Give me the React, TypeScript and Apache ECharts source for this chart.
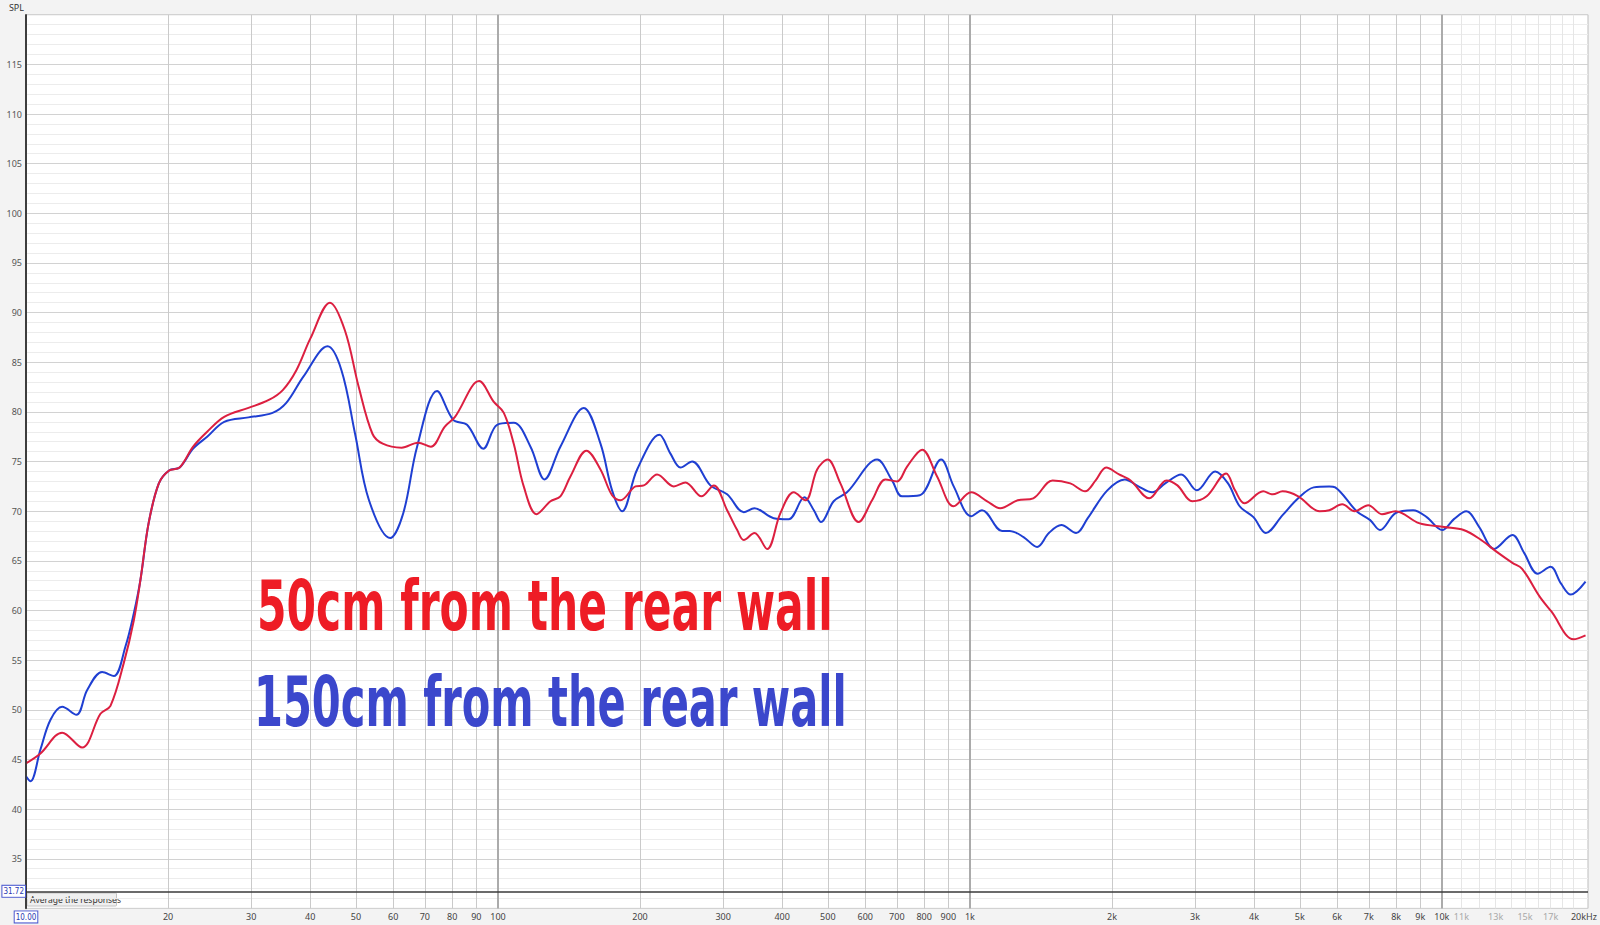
import { useEffect, useRef } from 'react';
import * as echarts from 'echarts';

// 50 cm from the rear wall (red)
const redFreq = [
  10, 10.73, 11.93, 13.15, 14.38, 15.1, 16.11, 16.92, 17.48, 18.19, 19.12, 20.1, 21.16, 22.6, 24.2,
  26.3, 29.6, 32.7, 35.0, 37.4, 40.05, 44.06, 47.4, 50.7, 54.2, 57.0, 62.5, 67.7, 72.1, 77.1, 81.1,
  91.25, 98, 102.9, 108, 113.4, 120.7, 129.2, 135.6, 142.4, 154, 164.9, 174.5, 181.8, 195.6, 203.7,
  217.4, 235.8, 249.6, 269.9, 286.6, 305.9, 321.3, 331.8, 349.5, 371.8, 396.7, 423.4, 448.3, 474.6,
  499.5, 531.6, 581.3, 620.5, 662.2, 701, 736, 792, 852, 924, 1006, 1088, 1159, 1263, 1362, 1497,
  1632, 1754, 1847, 1944, 2070, 2190, 2399, 2609, 2752, 2958, 3174, 3490, 3645, 3815, 4181, 4383,
  4597, 4961, 5507, 5772, 6150, 6532, 6985, 7463, 7976, 8941, 10113, 11122, 12113, 13072, 14107,
  14792, 16114, 17061, 19011, 20157,
];
const redSpl = [
  44.6, 45.6, 47.7, 46.2, 49.6, 50.4, 54.7, 59.0, 63.1, 68.8, 72.8, 74.1, 74.4, 76.5, 78.0,
  79.5, 80.4, 81.2, 82.2, 84.2, 87.4, 91.0, 88.2, 82.5, 77.8, 76.8, 76.4, 76.9, 76.5, 78.5, 79.5,
  83.1, 81.0, 79.9, 76.8, 72.5, 69.7, 71.0, 71.5, 73.5, 76.1, 74.2, 71.6, 71.1, 72.5, 72.6,
  73.7, 72.5, 72.9, 71.5, 72.6, 70.1, 68.1, 67.1, 67.8, 66.2, 69.8, 71.9, 71.1, 74.2,
  75.2, 72.8, 68.9, 71.1, 73.2, 73.0, 74.5, 76.2, 73.5, 70.5, 71.9, 71.0, 70.3, 71.1, 71.3, 73.1,
  72.8, 72.0, 73.1, 74.4, 73.7, 73.1, 71.3, 73.1, 72.6, 71.0, 71.5, 73.8, 72.1, 70.8, 72.0, 71.7,
  72.0, 71.5, 70.0, 70.1, 70.7, 70.0, 70.6, 69.7, 70.0, 68.8, 68.4, 68.1, 67.1, 65.9, 64.8,
  64.2, 61.4, 59.9, 57.1, 57.5,
];

// 150 cm from the rear wall (blue)
const blueFreq = [
  10, 10.22, 10.73, 11.27, 11.93, 12.79, 13.48, 14.5, 15.35, 16.25, 16.92, 17.48, 18.19, 19.12, 20.1,
  21.16, 22.6, 24.2, 26.3, 29.6, 33.3, 35.6, 38.7, 43.55, 46.6, 49.8, 53.3, 59.1, 63, 67.4, 74.3,
  80.4, 86, 93.1, 99.6, 108, 117.2, 125.5, 135.6, 152, 164.9, 174.5, 183.3, 197.2, 219.9, 232,
  243.6, 257.9, 281.9, 305.9, 331.8, 349.5, 384, 413, 446, 467, 483.7, 514.5, 549, 636, 684, 718,
  783, 869, 924, 1006, 1061, 1170, 1215, 1299, 1388, 1470, 1562, 1679, 1777, 1955, 2129, 2275,
  2432, 2593, 2804, 3026, 3309, 3523, 3729, 3988, 4236, 4597, 4961, 5351, 5772, 5943, 6597, 7048,
  7393, 7976, 8690, 9286, 10019, 10607, 11269, 12000, 12900, 14107, 14938, 15958, 16995, 17890,
  18754, 20157,
];
const blueSpl = [
  43.3, 42.8, 46.0, 49.0, 50.3, 49.5, 52.0, 53.8, 53.4, 56.4, 59.7, 63.1, 68.8, 72.8, 74.1,
  74.4, 76.3, 77.5, 79.0, 79.45, 79.9, 80.9, 83.55, 86.6, 84.2, 77.8, 71.1, 67.3, 69.8, 76.5, 82.1,
  79.2, 78.7, 76.3, 78.7, 78.9, 76.5, 73.2, 76.5, 80.4, 76.8, 72.1, 70.0, 74.2, 77.7, 75.8,
  74.4, 75.0, 72.6, 71.7, 69.9, 70.3, 69.3, 69.2, 71.4, 70.1, 68.9, 71.0, 71.9, 75.2, 73.1, 71.5,
  71.6, 75.2, 72.5, 69.5, 70.1, 68.0, 68.0, 67.4, 66.4, 67.8, 68.6, 67.8, 69.3, 72.1, 73.2, 72.5,
  71.9, 72.8, 73.7, 72.1, 74.0, 72.8, 70.5, 69.4, 67.8, 69.6, 71.3, 72.4, 72.5, 72.4, 70.0, 69.1,
  68.1, 69.8, 70.1, 69.4, 68.1, 69.2, 70.0, 68.4, 66.2, 67.6, 65.8, 63.7, 64.4, 62.7,
  61.6, 62.9,
];

// vertical grid lines and frequency labels
const gridFreqs = [
  20, 30, 40, 50, 60, 70, 80, 90,
  200, 300, 400, 500, 600, 700, 800, 900,
  2000, 3000, 4000, 5000, 6000, 7000, 8000, 9000,
  11000, 12000, 13000, 14000, 15000, 16000, 17000, 18000, 19000,
];
const decadeFreqs = [100, 1000, 10000];
const labelFreqs = [
  20, 30, 40, 50, 60, 70, 80, 90, 100, 200, 300, 400, 500, 600, 700, 800, 900,
  1000, 2000, 3000, 4000, 5000, 6000, 7000, 8000, 9000, 10000, 11000, 13000, 15000, 17000, 20000,
];

const cursorSpl = 31.72;
const cursorFreq = 10;
const notes = ['50cm from the rear wall', '150cm from the rear wall'];

const noteFont = '"DejaVu Sans Condensed", "DejaVu Sans", sans-serif';

const fmtFreq = (v: number) => {
  const f = Math.round(v);
  if (f >= 20000) return '20kHz';
  if (f >= 1000) return `${Math.round(f / 100) / 10}k`;
  return String(f);
};

const measure = (text: string, size: number) => {
  const ctx = document.createElement('canvas').getContext('2d');
  if (!ctx) return text.length * size * 0.55;
  ctx.font = `bold ${size}px ${noteFont}`;
  return ctx.measureText(text).width;
};

const App = () => {
  const chartRef = useRef<HTMLDivElement>(null);

  useEffect(() => {
    if (!chartRef.current) return;
    document.body.style.margin = '0';

    const chart = echarts.init(chartRef.current, undefined, { renderer: 'svg' });

    const noteSize = 70;
    const redScale = 576 / measure(notes[0], noteSize);
    const blueScale = 593 / measure(notes[1], noteSize);

    const cursorLabel = {
      color: '#2a38b0',
      fontSize: 8,
      fontFamily: '"DejaVu Sans Condensed", sans-serif',
      backgroundColor: '#ffffff',
      borderColor: '#4a58d0',
      borderWidth: 1,
      padding: [2, 1, 1, 1],
    };

    const option: echarts.EChartsOption = {
      animation: false,
      backgroundColor: '#f3f3f3',
      textStyle: { fontFamily: '"Noto Sans", "DejaVu Sans", sans-serif' },
      grid: {
        left: 26,
        right: 12,
        top: 14.7,
        bottom: 16.6,
        show: true,
        backgroundColor: '#ffffff',
        borderColor: '#bdbdbd',
        borderWidth: 1,
      },
      xAxis: [
        {
          type: 'log',
          logBase: 10,
          min: 10,
          max: 20400,
          position: 'bottom',
          axisLine: { show: false },
          axisTick: { show: false, customValues: gridFreqs },
          axisLabel: {
            customValues: labelFreqs,
            formatter: (v: number) => fmtFreq(v),
            fontSize: 9,
            margin: 4,
            color: ((v: number) => (v > 10500 && v < 19000 ? '#a8a8a8' : '#444444')) as any,
          },
          splitLine: {
            show: true,
            lineStyle: {
              color: gridFreqs.map((f) => (f > 10000 ? '#e6e6e6' : '#cacaca')),
              width: 1,
            },
          },
        },
        {
          type: 'log',
          logBase: 10,
          min: 10,
          max: 20400,
          position: 'bottom',
          axisLine: { show: false },
          axisTick: { show: false, customValues: decadeFreqs },
          axisLabel: { show: false },
          splitLine: { show: true, lineStyle: { color: '#ababab', width: 2 } },
        },
      ],
      yAxis: {
        type: 'value',
        min: 30,
        max: 120,
        interval: 5,
        name: 'SPL',
        nameLocation: 'end',
        nameGap: 3,
        nameTextStyle: { align: 'right', fontSize: 9, color: '#333333', padding: [0, 2, 0, 0] },
        axisLine: { show: true, lineStyle: { color: '#333333', width: 1.5 } },
        axisTick: { show: false },
        axisLabel: { fontSize: 9, color: '#555555', margin: 4, showMinLabel: false, showMaxLabel: false },
        splitLine: { lineStyle: { color: '#d2d2d2' } },
        minorTick: { show: false, splitNumber: 5 },
        minorSplitLine: { show: true, lineStyle: { color: '#ececec' } },
      },
      series: [
        {
          name: '150cm',
          type: 'line',
          data: blueFreq.map((f, i) => [f, blueSpl[i]]),
          showSymbol: false,
          smooth: 0.35,
          lineStyle: { color: '#1f3fd2', width: 2 },
          itemStyle: { color: '#1f3fd2' },
          z: 3,
          markLine: {
            silent: true,
            symbol: ['none', 'none'],
            data: [
              {
                yAxis: cursorSpl,
                lineStyle: { color: '#3a3a3a', width: 1.5, type: 'solid' },
                label: { ...cursorLabel, position: 'start', distance: 1, formatter: cursorSpl.toFixed(2) },
              },
              {
                xAxis: cursorFreq,
                lineStyle: { color: '#333333', width: 1.5, type: 'solid' },
                label: { ...cursorLabel, position: 'start', distance: 3, formatter: cursorFreq.toFixed(2) },
              },
            ] as any,
          },
        },
        {
          name: '50cm',
          type: 'line',
          data: redFreq.map((f, i) => [f, redSpl[i]]),
          showSymbol: false,
          smooth: 0.35,
          lineStyle: { color: '#dc1f40', width: 2 },
          itemStyle: { color: '#dc1f40' },
          z: 4,
        },
      ],
      graphic: [
        {
          type: 'text',
          x: 257,
          y: 605.5,
          scaleX: redScale,
          z: 100,
          style: {
            text: notes[0],
            fill: '#ee1c25',
            fontFamily: noteFont,
            fontWeight: 'bold',
            fontSize: noteSize,
            align: 'left',
            verticalAlign: 'middle',
          },
        },
        {
          type: 'text',
          x: 254,
          y: 701.5,
          scaleX: blueScale,
          z: 100,
          style: {
            text: notes[1],
            fill: '#3b47cc',
            fontFamily: noteFont,
            fontWeight: 'bold',
            fontSize: noteSize,
            align: 'left',
            verticalAlign: 'middle',
          },
        },
        {
          type: 'group',
          z: 100,
          children: [
            {
              type: 'rect',
              shape: { x: 27, y: 893, width: 89.5, height: 13, r: 1 },
              style: { fill: '#efefef', stroke: '#c4c4c4', lineWidth: 1 },
            },
            {
              type: 'text',
              x: 30,
              y: 899.5,
              style: {
                text: 'Average the responses',
                fill: '#333333',
                fontSize: 8.5,
                fontFamily: '"Noto Sans", "DejaVu Sans", sans-serif',
                verticalAlign: 'middle',
              },
            },
          ],
        },
      ],
    };

    chart.setOption(option);

    return () => {
      chart.dispose();
    };
  }, []);

  return <div ref={chartRef} style={{ width: 1600, height: 925 }} />;
};

export default App;
